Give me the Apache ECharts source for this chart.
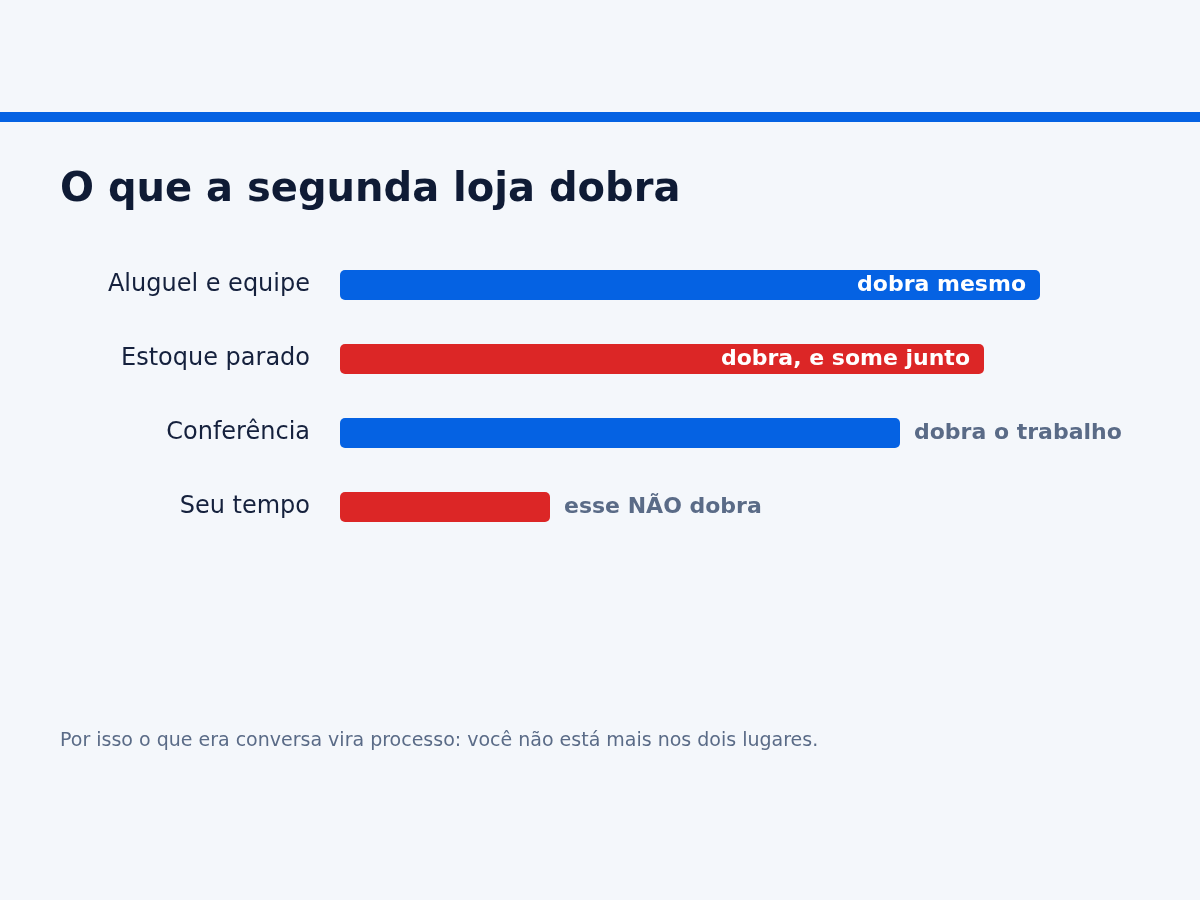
<!DOCTYPE html>
<html><head><meta charset="utf-8">
<script src="https://cdn.jsdelivr.net/npm/echarts@6/dist/echarts.min.js"></script>
<style>html,body{margin:0;padding:0;background:#f4f7fb}#c{width:1200px;height:900px}</style>
</head><body><div id="c"></div>
<script>
const categories = ['Aluguel e equipe', 'Estoque parado', 'Conferência', 'Seu tempo'];
const values = [100, 92, 80, 30];
const barLabels = ['dobra mesmo', 'dobra, e some junto', 'dobra o trabalho', 'esse NÃO dobra'];
const labelInside = [true, true, false, false];
const barColors = ['#0562e3', '#dc2626', '#0562e3', '#dc2626'];
const titleText = 'O que a segunda loja dobra';
const footerText = 'Por isso o que era conversa vira processo: você não está mais nos dois lugares.';

const FONT = 'DejaVu Sans';
const chart = echarts.init(document.getElementById('c'));
const data = values.map((v, i) => ({
  value: v,
  itemStyle: { color: barColors[i], borderRadius: 5 },
  label: labelInside[i]
    ? { show: true, position: 'insideRight', distance: 14, color: '#ffffff', formatter: barLabels[i], padding: [2, 0, 0, 0] }
    : { show: true, position: 'right', distance: 14, color: '#5a6b87', formatter: barLabels[i], padding: [2, 0, 0, 0] }
}));
chart.setOption({
  backgroundColor: '#f4f7fb',
  animation: false,
  textStyle: { fontFamily: FONT },
  graphic: [
    { type: 'rect', shape: { x: 0, y: 112, width: 1200, height: 10 }, style: { fill: '#0562e3' } },
    { type: 'text', x: 60, y: 191, style: { text: titleText, font: 'bold 40px "DejaVu Sans"', fill: '#0f1b35', textVerticalAlign: 'middle' } },
    { type: 'text', x: 60, y: 741, style: { text: footerText, font: '19px "DejaVu Sans"', fill: '#5a6b87', textVerticalAlign: 'middle' } }
  ],
  grid: { left: 340, top: 248, width: 700, height: 296, containLabel: false },
  xAxis: { type: 'value', min: 0, max: 100, show: false },
  yAxis: {
    type: 'category', data: categories, inverse: true,
    axisLine: { show: false }, axisTick: { show: false },
    axisLabel: { color: '#15213d', fontSize: 24, margin: 30, fontFamily: FONT }
  },
  series: [{
    type: 'bar', data: data, barWidth: 30,
    label: { fontSize: 22, fontWeight: 'bold', fontFamily: FONT }
  }]
});
</script></body></html>
